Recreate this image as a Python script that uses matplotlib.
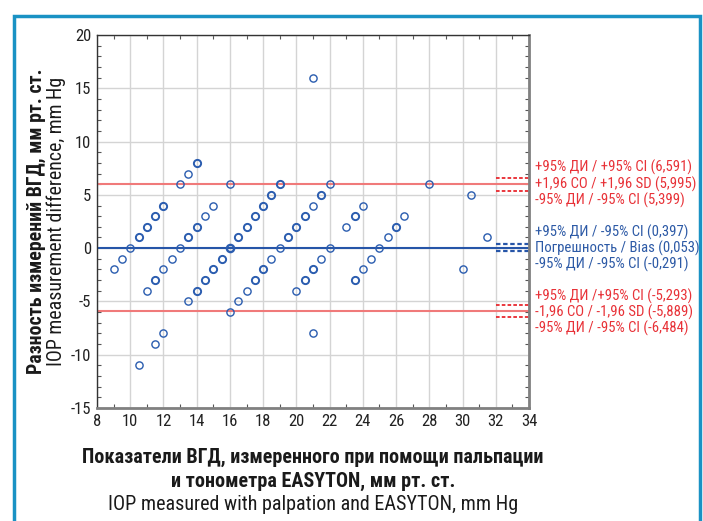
import matplotlib
matplotlib.use("Agg")
import matplotlib.pyplot as plt
from matplotlib.patches import Rectangle
import numpy as np

plt.rcParams['font.family'] = ['Roboto Condensed', 'DejaVu Sans']
plt.rcParams['axes.unicode_minus'] = False

# Bland-Altman data: mean (x) and difference (y), count of overlapping points
x_mean = [10, 10.5, 11, 11.5, 12, 9.5, 9,
          11, 11.5, 12, 12.5, 13, 13.5, 14, 14.5, 15, 13, 13.5, 14,
          13.5, 14, 14.5, 15, 15.5, 16, 16.5, 17, 17.5, 18, 18.5, 19, 16,
          16.5, 17, 17.5, 18, 18.5, 19, 19.5, 20, 20.5, 21, 21.5, 22, 16,
          20, 20.5, 21, 21.5, 22, 23, 23.5, 24,
          23.5, 24, 24.5, 25, 25.5, 26, 26.5,
          12, 11.5, 10.5, 21, 21, 28, 30.5, 31.5, 30]
y_diff = [0, 1, 2, 3, 4, -1, -2,
          -4, -3, -2, -1, 0, 1, 2, 3, 4, 6, 7, 8,
          -5, -4, -3, -2, -1, 0, 1, 2, 3, 4, 5, 6, 6,
          -5, -4, -3, -2, -1, 0, 1, 2, 3, 4, 5, 6, -6,
          -4, -3, -2, -1, 0, 2, 3, 4,
          -3, -2, -1, 0, 1, 2, 3,
          -8, -9, -11, -8, 16, 6, 5, 1, -2]
counts = [1, 2, 2, 2, 2, 1, 1,
          1, 2, 1, 1, 1, 2, 2, 1, 1, 1, 1, 2,
          1, 2, 2, 2, 2, 3, 2, 2, 2, 2, 2, 2, 1,
          1, 1, 2, 2, 1, 1, 2, 2, 2, 1, 2, 1, 1,
          1, 2, 2, 1, 1, 1, 2, 1,
          2, 1, 1, 1, 1, 2, 1,
          1, 1, 1, 1, 1, 1, 1, 1, 1]

bias = 0.053
bias_ci = (0.397, -0.291)
upper_loa = 5.995
upper_ci = (6.591, 5.399)
lower_loa = -5.889
lower_ci = (-5.293, -6.484)

red_labels = ["+95% ДИ / +95% CI (6,591)",
              "+1,96 СО / +1,96 SD (5,995)",
              "-95% ДИ / -95% CI (5,399)"]
blue_labels = ["+95% ДИ / -95% CI (0,397)",
               "Погрешность / Bias (0,053)",
               "-95% ДИ / -95% CI (-0,291)"]
red_labels2 = ["+95% ДИ /+95% CI (-5,293)",
               "-1,96 СО / -1,96 SD (-5,889)",
               "-95% ДИ / -95% CI (-6,484)"]

ylabel_ru = "Разность измерений ВГД, мм рт. ст."
ylabel_en = "IOP measurement difference, mm Hg"
xlabel_ru1 = "Показатели ВГД, измеренного при помощи пальпации"
xlabel_ru2 = "и тонометра EASYTON, мм рт. ст."
xlabel_en = "IOP measured with palpation and EASYTON, mm Hg"

RED = "#f07a7a"
RED_D = "#e8282e"
BLUE = "#2655a8"
PT = "#2a5caf"
TXT_RED = "#e83238"
TXT_BLUE = "#2d5aa6"

fig = plt.figure(figsize=(7.03, 5.21), dpi=100)
ax = fig.add_axes([97/703, 1-408/521, (529-97)/703, (408-35)/521])

ax.set_xlim(8, 34)
ax.set_ylim(-15, 20)
ax.set_xticks(np.arange(8, 35, 2))
ax.set_yticks(np.arange(-15, 21, 5))
ax.set_xticks(np.arange(8, 35, 1), minor=True)
ax.set_yticks(np.arange(-15, 21, 1), minor=True)
ax.grid(True, which='major', color='#d4d4d4', lw=1.0, zorder=0)
ax.tick_params(which='both', direction='in', top=True, right=True, labelsize=12, colors='#222222')
ax.tick_params(which='major', length=0, pad=4)
ax.tick_params(which='minor', length=3, width=0.8, color='#555555')
for s in ['left', 'top']:
    ax.spines[s].set_color('#333333'); ax.spines[s].set_linewidth(1.0)
for s in ['right', 'bottom']:
    ax.spines[s].set_color('#808080'); ax.spines[s].set_linewidth(2.0)

# lines
ax.axhline(upper_loa, color=RED, lw=1.5, zorder=2)
ax.axhline(lower_loa, color=RED, lw=1.5, zorder=2)
ax.axhline(bias, color=BLUE, lw=1.5, zorder=2)
for v in upper_ci + lower_ci:
    ax.plot([32, 34], [v, v], color=RED_D, lw=1.3, ls=(0, (2, 1.2)), zorder=2)
for v in bias_ci:
    ax.plot([32, 34], [v, v], color=BLUE, lw=1.6, ls=(0, (2, 1.2)), zorder=2)

xm = np.array(x_mean); yd = np.array(y_diff); c = np.array(counts)
for k, lw in [(1, 1.0), (2, 1.4), (3, 1.7)]:
    m = c == k
    ax.plot(xm[m], yd[m], 'o', ms=5.2, mfc='none', mec=PT, mew=lw, zorder=3, clip_on=False)

# right-side annotation text
tx = 535/703
def place(labels, ys, color):
    for lab, yy in zip(labels, ys):
        fig.text(tx, 1-yy/521, lab, color=color, fontsize=10.6, va='center', ha='left')
place(red_labels, [167, 184, 200], TXT_RED)
place(blue_labels, [232, 248, 264], TXT_BLUE)
place(red_labels2, [296, 312, 328], TXT_RED)

# axis labels
fig.text(36/703, 1-221/521, ylabel_ru, rotation=90, fontsize=14.3, fontweight='bold',
         ha='center', va='center', color='#1a1a1a')
fig.text(56/703, 1-221/521, ylabel_en, rotation=90, fontsize=14.3,
         ha='center', va='center', color='#1a1a1a')
fig.text(313/703, 1-457/521, xlabel_ru1, fontsize=14.5, fontweight='bold', ha='center', va='center', color='#1a1a1a')
fig.text(313/703, 1-481/521, xlabel_ru2, fontsize=14.5, fontweight='bold', ha='center', va='center', color='#1a1a1a')
fig.text(313/703, 1-505/521, xlabel_en, fontsize=14.5, ha='center', va='center', color='#1a1a1a')

# frame
fig.patches.append(Rectangle((14/703, -0.05), (700-14)/703, 1-16/521+0.05, transform=fig.transFigure,
                             fill=False, ec='#1a92c4', lw=2.5, clip_on=False))

fig.savefig("out.png", dpi=100)
